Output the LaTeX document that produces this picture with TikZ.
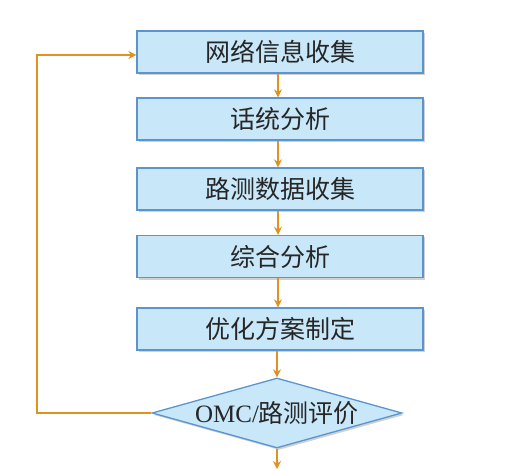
\documentclass[tikz,border=0pt]{standalone}
\usepackage{fontspec}
\setmainfont{Liberation Serif}
\newfontfamily\cjk{Noto Sans CJK SC}
\usetikzlibrary{shapes.geometric,arrows.meta,shadows}
\definecolor{boxfill}{HTML}{C8E7F9}
\definecolor{boxline}{HTML}{5A95D0}
\definecolor{flow}{HTML}{E0921E}
\tikzset{
  stepbox/.style={draw=boxline, line width=1.3pt, fill=boxfill, minimum width=286pt, minimum height=42pt, inner sep=0pt,
    drop shadow={shadow xshift=2pt, shadow yshift=-2pt, fill=black!30, opacity=0.6},
    font=\cjk\fontsize{25}{28}\selectfont, text=black!85},
  decbox/.style={diamond, aspect=3.57, draw=boxline, line width=1.3pt, fill=boxfill, minimum width=250pt, minimum height=70pt, inner sep=0pt,
    drop shadow={shadow xshift=2pt, shadow yshift=-2pt, fill=black!30, opacity=0.6},
    text=black!85},
  flowarrow/.style={draw=flow, line width=2.6pt, -{Stealth[length=8pt,width=8pt]}}
}
\begin{document}
\begin{tikzpicture}[x=1pt,y=-1pt]
\useasboundingbox (0,0) rectangle (527,470);
\node[stepbox] (a) at (280,52) {网络信息收集};
\node[stepbox] (b) at (280,119) {话统分析};
\node[stepbox] (c) at (280,189) {路测数据收集};
\node[stepbox] (d) at (280,256.5) {综合分析};
\node[stepbox] (e) at (280,329) {优化方案制定};
\node[decbox] (f) at (277,413) {\fontsize{25}{28}\selectfont OMC/{\cjk 路测评价}};
\coordinate (out) at (277,469);
\coordinate (lb) at (37,413);
\coordinate (lt) at (37,55);
\draw[flowarrow] (a.south -| 278,0) -- (b.north -| 278,0);
\draw[flowarrow] (b.south -| 278,0) -- (c.north -| 278,0);
\draw[flowarrow] (c.south -| 278,0) -- (d.north -| 278,0);
\draw[flowarrow] (d.south -| 278,0) -- (e.north -| 278,0);
\draw[flowarrow] (e.south -| 277,0) -- (f.north);
\draw[flowarrow] (f.south) -- (out);
\draw[flowarrow] (f.west) -- (lb) -- (lt) -- (lt -| a.west);
\end{tikzpicture}
\end{document}
